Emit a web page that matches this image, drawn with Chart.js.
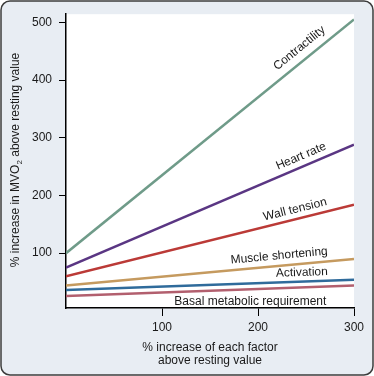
<!DOCTYPE html>
<html>
<head>
<meta charset="utf-8">
<script src="https://cdn.jsdelivr.net/npm/chart.js@4/dist/chart.umd.min.js"></script>
<style>
  html, body { margin: 0; padding: 0; background: #fff; }
  #wrap { width: 374px; height: 376px; position: relative; }
</style>
</head>
<body>
<div id="wrap"><canvas id="mvoChart" width="374" height="376"></canvas></div>
<script>
// data
const xValues = [0, 300];
const contractility = [100, 505];
const heartRate = [75, 288];
const wallTension = [60, 184];
const muscleShortening = [44, 90];
const activation = [36, 54];
const basal = [26, 44];
const xTicks = [100, 200, 300];
const yTicks = [100, 200, 300, 400, 500];
const seriesNames = ["Contractility", "Heart rate", "Wall tension", "Muscle shortening", "Activation", "Basal metabolic requirement"];
const seriesValues = [contractility, heartRate, wallTension, muscleShortening, activation, basal];

const colors = ["#6f9b89", "#5a3683", "#bb3a37", "#c59a5f", "#2f6b9b", "#b25f6e"];
// where each name sits: data x of text centre, perpendicular offset (px), follow line angle
const labelPos = [
  { x: 251, off: 12, tilt: true },
  { x: 249, off: 10, tilt: true },
  { x: 241, off: 9.5, tilt: true },
  { x: 223, off: 10, tilt: true },
  { x: 246, off: 9, tilt: true },
  { x: 192, off: -12, tilt: false }
];

const FONT = "'Liberation Sans', Arial, Helvetica, sans-serif";

const frame = {
  id: "frame",
  beforeDraw(chart) {
    const ctx = chart.ctx;
    const a = chart.chartArea;
    ctx.save();
    ctx.fillStyle = "#ffffff";
    ctx.fillRect(0, 0, chart.width, chart.height);
    ctx.beginPath();
    ctx.roundRect(1, 1, chart.width - 2, chart.height - 2, 9);
    ctx.fillStyle = "#e8edf3";
    ctx.fill();
    ctx.lineWidth = 1.5;
    ctx.strokeStyle = "#3c3c3c";
    ctx.stroke();
    ctx.fillStyle = "#ffffff";
    ctx.fillRect(a.left, a.top, a.right - a.left, a.bottom - a.top);
    ctx.restore();
  },
  afterDraw(chart) {
    const ctx = chart.ctx;
    const xs = chart.scales.x, ys = chart.scales.y;
    ctx.save();
    ctx.fillStyle = "#1a1a1a";
    ctx.font = "12px " + FONT;
    ctx.textBaseline = "middle";
    ctx.textAlign = "center";

    // line names
    seriesNames.forEach((name, i) => {
      const v = seriesValues[i];
      const x0 = xs.getPixelForValue(xValues[0]), y0 = ys.getPixelForValue(v[0]);
      const x1 = xs.getPixelForValue(xValues[1]), y1 = ys.getPixelForValue(v[1]);
      const ang = labelPos[i].tilt ? Math.atan2(y1 - y0, x1 - x0) : 0;
      const px = xs.getPixelForValue(labelPos[i].x);
      const py = y0 + (y1 - y0) * (px - x0) / (x1 - x0);
      ctx.save();
      ctx.translate(px, py);
      ctx.rotate(ang);
      ctx.fillText(name, 0, -labelPos[i].off);
      ctx.restore();
    });

    // x title
    ctx.fillText("% increase of each factor", 210, 348);
    ctx.fillText("above resting value", 210, 361);

    // y title with subscript
    ctx.save();
    ctx.translate(16, 160);
    ctx.rotate(-Math.PI / 2);
    const p1 = "% increase in MVO", p2 = "2", p3 = " above resting value";
    ctx.font = "12px " + FONT;
    const w1 = ctx.measureText(p1).width, w3 = ctx.measureText(p3).width;
    ctx.font = "8px " + FONT;
    const w2 = ctx.measureText(p2).width;
    let sx = -(w1 + w2 + w3) / 2;
    ctx.textAlign = "left";
    ctx.font = "12px " + FONT;
    ctx.fillText(p1, sx, 0);
    ctx.font = "8px " + FONT;
    ctx.fillText(p2, sx + w1, 4);
    ctx.font = "12px " + FONT;
    ctx.fillText(p3, sx + w1 + w2, 0);
    ctx.restore();
    ctx.restore();
  }
};

new Chart(document.getElementById("mvoChart"), {
  type: "line",
  data: {
    datasets: seriesNames.map((n, i) => ({
      label: n,
      data: xValues.map((x, j) => ({ x: x, y: seriesValues[i][j] })),
      borderColor: colors[i],
      borderWidth: 2.5,
      pointRadius: 0,
      fill: false,
      tension: 0
    }))
  },
  options: {
    responsive: false,
    animation: false,
    devicePixelRatio: 1,
    layout: { padding: { left: 0, top: 10, right: 20, bottom: 0 } },
    plugins: { legend: { display: false }, tooltip: { enabled: false } },
    scales: {
      x: {
        type: "linear",
        min: 0,
        max: 300,
        afterFit(s) { s.height = 68; },
        afterBuildTicks(s) { s.ticks = xTicks.map(v => ({ value: v })); },
        border: { color: "#000", width: 1.5 },
        grid: { drawOnChartArea: false, drawTicks: true, tickLength: 8, color: "#000", lineWidth: 1 },
        ticks: { color: "#1a1a1a", padding: 4, maxRotation: 0, font: { family: FONT, size: 12 } }
      },
      y: {
        type: "linear",
        min: 5,
        max: 514,
        afterFit(s) { s.width = 66; },
        afterBuildTicks(s) { s.ticks = yTicks.map(v => ({ value: v })); },
        border: { color: "#000", width: 1.5 },
        grid: { drawOnChartArea: false, drawTicks: true, tickLength: 7, color: "#000", lineWidth: 1 },
        ticks: { color: "#1a1a1a", padding: 7, font: { family: FONT, size: 12 } }
      }
    }
  },
  plugins: [frame]
});
</script>
</body>
</html>
